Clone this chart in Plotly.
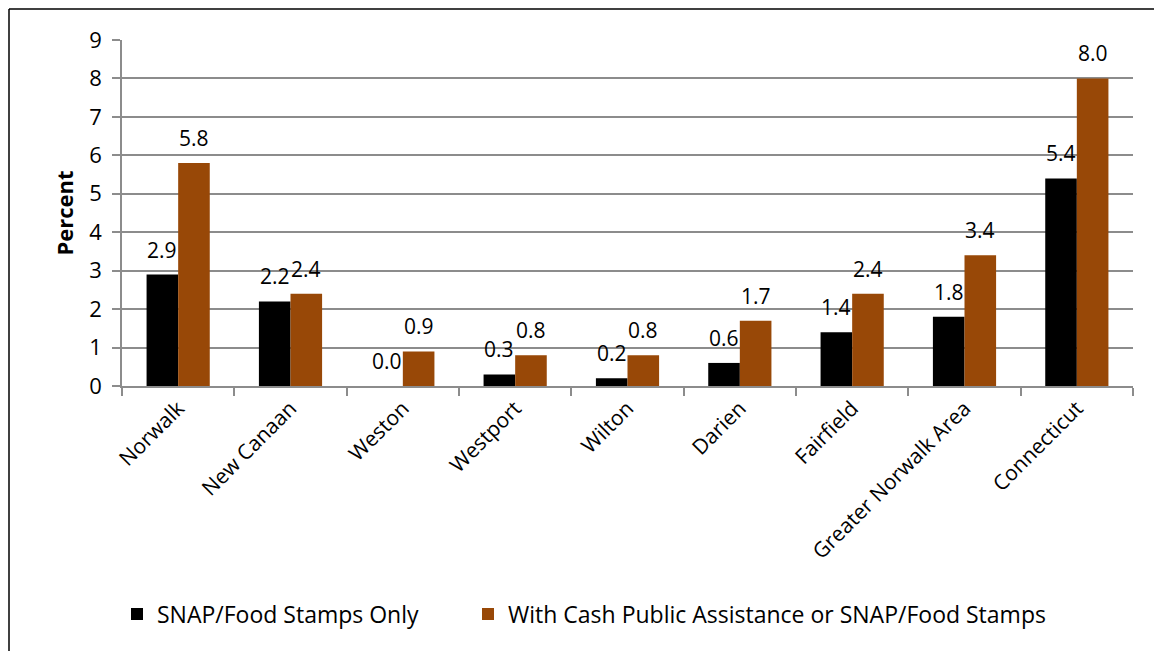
import plotly.graph_objects as go

categories = ["Norwalk", "New Canaan", "Weston", "Westport", "Wilton", "Darien",
              "Fairfield", "Greater Norwalk Area", "Connecticut"]
snap_only = [2.9, 2.2, 0.0, 0.3, 0.2, 0.6, 1.4, 1.8, 5.4]
with_cash = [5.8, 2.4, 0.9, 0.8, 0.8, 1.7, 2.4, 3.4, 8.0]
y_ticks = [0, 1, 2, 3, 4, 5, 6, 7, 8, 9]

series = [
    ("SNAP/Food Stamps Only", snap_only, "#000000", "legend"),
    ("With Cash Public Assistance or SNAP/Food Stamps", with_cash, "#984807", "legend2"),
]

FONT = "Open Sans"
OFF = 8  # page body margin
W, H = 1162 - OFF, 651 - OFF
ML, MT = 122 - OFF, 40 - OFF
MR = W - (1133 - OFF)
MB = H - (386 - OFF)
PW = W - ML - MR
PH = H - MT - MB
BARGAP = 0.4375
bar_px = PW / len(categories) * (1 - BARGAP) / 2

fig = go.Figure()
for name, vals, col, lg in series:
    fig.add_trace(go.Bar(
        x=categories, y=vals, name=name, legend=lg,
        marker=dict(color=col, line=dict(width=0)),
    ))

annotations = []
for i, (name, vals, col, lg) in enumerate(series):
    shift = (-0.5 if i == 0 else 0.5) * bar_px
    for c, v in zip(categories, vals):
        annotations.append(dict(
            x=c, y=v, xref="x", yref="y", text=f"{v:.1f}", showarrow=False,
            xshift=shift, yshift=25, yanchor="middle",
            font=dict(family=FONT, size=21, color="#000000"),
        ))

legend_y = -(614 - 386) / PH
legend_font = dict(family=FONT, size=23, color="#000000")
fig.update_layout(
    width=W, height=H,
    margin=dict(l=ML, r=MR, t=MT, b=MB, autoexpand=False),
    paper_bgcolor="white", plot_bgcolor="white",
    barmode="group", bargap=BARGAP, bargroupgap=0,
    font=dict(family=FONT, size=20, color="#000000"),
    showlegend=True,
    legend=dict(orientation="h", x=(133 - 16 - OFF - ML) / PW, xanchor="left",
                y=legend_y, yanchor="middle", font=legend_font),
    legend2=dict(orientation="h", x=(484 - 16 - OFF - ML) / PW, xanchor="left",
                 y=legend_y, yanchor="middle", font=legend_font),
    annotations=annotations,
)

fig.update_yaxes(
    range=[0, 9], tickvals=y_ticks, ticktext=[str(t) for t in y_ticks],
    showgrid=True, gridcolor="#8c8c8c", gridwidth=1.5,
    showline=True, linecolor="#8c8c8c", linewidth=1.5,
    ticks="outside", ticklen=8, tickcolor="#8c8c8c", tickwidth=1.5,
    ticklabelstandoff=6,
    tickfont=dict(family=FONT, size=22, color="#000000"),
    zeroline=False,
    title=dict(text="<b>Percent</b>", font=dict(family=FONT, size=22, color="#000000"),
               standoff=10),
)
fig.update_xaxes(
    showline=True, linecolor="#8c8c8c", linewidth=1.5,
    ticks="outside", ticklen=8, tickcolor="#8c8c8c", tickwidth=1.5,
    tickson="boundaries", tickangle=-45,
    tickfont=dict(family=FONT, size=21, color="#000000"),
    showgrid=False,
)

# outer frame (left and top edges visible in the crop)
x_left = (9 - OFF - ML) / PW
y_top = (386 - 9) / PH
fig.add_shape(type="line", xref="paper", yref="paper",
              x0=x_left, x1=x_left, y0=y_top, y1=-(MB + 20) / PH,
              line=dict(color="#000000", width=1.5))
fig.add_shape(type="line", xref="paper", yref="paper",
              x0=x_left, x1=(W + 20 - ML) / PW, y0=y_top, y1=y_top,
              line=dict(color="#000000", width=1.5))

fig.write_html("out.html")
